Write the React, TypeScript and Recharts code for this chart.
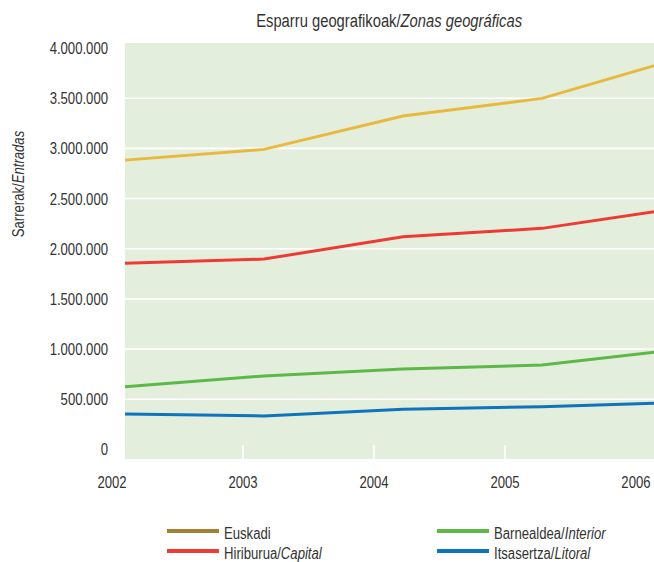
import { LineChart, Line, XAxis, YAxis, CartesianGrid } from 'recharts';

const years = [2002, 2003, 2004, 2005, 2006];
const euskadi = [2883000, 2990000, 3322000, 3498000, 3901000];
const capital = [1855000, 1897000, 2120000, 2203000, 2408000];
const interior = [626000, 732000, 802000, 842000, 999000];
const litoral = [354000, 334000, 400000, 426000, 468000];

const yTicks = [0, 500000, 1000000, 1500000, 2000000, 2500000, 3000000, 3500000, 4000000];
const gridValues = [500000, 1000000, 1500000, 2000000, 2500000, 3000000, 3500000];

const series = [
  { key: 'euskadi', name: 'Euskadi', italic: '', color: '#e9b83f', legendColor: '#a5802f' },
  { key: 'capital', name: 'Hiriburua/', italic: 'Capital', color: '#ee3a33', legendColor: '#ee3a33' },
  { key: 'interior', name: 'Barnealdea/', italic: 'Interior', color: '#5cb947', legendColor: '#5cb947' },
  { key: 'litoral', name: 'Itsasertza/', italic: 'Litoral', color: '#0f74bc', legendColor: '#0f74bc' },
];

const data = years.map((year, i) => ({
  year,
  euskadi: euskadi[i],
  capital: capital[i],
  interior: interior[i],
  litoral: litoral[i],
}));

// no narrow font installed, so squeeze Liberation Sans horizontally
const FONT = '"Liberation Sans", Arial, sans-serif';
const SQ = 0.82;
const TEXT = '#333333';

const fmt = (v: number) => v.toLocaleString('de-DE');

const Narrow = ({ x, y, anchor = 'middle', children, ...rest }: any) => (
  <text
    transform={`translate(${x},${y}) scale(${SQ},1)`}
    textAnchor={anchor}
    fill={TEXT}
    fontSize={16}
    fontFamily={FONT}
    {...rest}
  >
    {children}
  </text>
);

const YearTick = ({ x, y, payload, index }: any) => {
  const inner = index > 0 && index < years.length - 1;
  return (
    <g>
      {inner && <line x1={x} x2={x} y1={y - 14} y2={y} stroke="#ffffff" strokeWidth={1.6} />}
      <Narrow x={x} y={y + 29}>{payload.value}</Narrow>
    </g>
  );
};

const ValueTick = ({ x, y, payload }: any) => (
  <Narrow x={x} y={y + 6} anchor="end">{fmt(payload.value)}</Narrow>
);

const YLabel = () => (
  <text
    transform={`translate(24,184) rotate(-90) scale(${SQ},1)`}
    textAnchor="middle"
    fill={TEXT}
    fontSize={16}
    fontFamily={FONT}
  >
    <tspan>Sarrerak/</tspan>
    <tspan fontStyle="italic">Entradas</tspan>
  </text>
);

const squeeze = { display: 'inline-block', transform: `scaleX(${SQ})`, transformOrigin: 'left center' } as const;

export default function App() {
  return (
    <div style={{ position: 'absolute', left: 0, top: 0, width: 654, height: 562, overflow: 'hidden', background: '#fff', fontFamily: FONT, color: TEXT }}>
      <div style={{ position: 'absolute', left: 189, top: 11, width: 400, textAlign: 'center', fontSize: 18, lineHeight: '20px' }}>
        <span style={{ display: 'inline-block', transform: `scaleX(${SQ})`, whiteSpace: 'nowrap' }}>
          Esparru geografikoak/<i>Zonas geográficas</i>
        </span>
      </div>

      <LineChart width={700} height={562} data={data} margin={{ top: 43, right: 19, bottom: 73, left: 0 }}>
        <CartesianGrid
          xAxisId="idx"
          vertical={false}
          horizontalValues={gridValues}
          stroke="#ffffff"
          strokeWidth={1.6}
          fill="#e3efdc"
          fillOpacity={1}
        />
        <XAxis
          xAxisId="years"
          dataKey="year"
          type="number"
          domain={[2002.099, 2006.344]}
          ticks={years}
          allowDataOverflow
          interval={0}
          height={30}
          axisLine={false}
          tickLine={false}
          tickSize={0}
          tickMargin={0}
          tick={<YearTick />}
        />
        <XAxis xAxisId="idx" dataKey="year" type="category" hide height={0} padding={{ left: 0, right: 0 }} />
        <YAxis
          type="number"
          domain={[-95000, 4050000]}
          ticks={yTicks}
          allowDataOverflow
          interval={0}
          width={125}
          axisLine={false}
          tickLine={false}
          tickSize={0}
          tickMargin={17}
          tick={<ValueTick />}
          label={<YLabel />}
        />
        {/* invisible series so the year axis has something to scale */}
        <Line xAxisId="years" dataKey="litoral" stroke="none" dot={false} activeDot={false} isAnimationActive={false} />
        {series.map((s) => (
          <Line
            key={s.key}
            xAxisId="idx"
            type="linear"
            dataKey={s.key}
            stroke={s.color}
            strokeWidth={3}
            dot={false}
            isAnimationActive={false}
          />
        ))}
      </LineChart>

      {series.map((s, i) => (
        <div
          key={s.key}
          style={{
            position: 'absolute',
            left: i < 2 ? 167 : 437,
            top: i % 2 === 0 ? 524 : 544,
            display: 'flex',
            alignItems: 'center',
            height: 20,
            fontSize: 16,
            whiteSpace: 'nowrap',
          }}
        >
          <span style={{ display: 'inline-block', width: 52, height: 4, background: s.legendColor, marginRight: 5, marginTop: -6 }} />
          <span style={squeeze}>
            {s.name}
            {s.italic && <i>{s.italic}</i>}
          </span>
        </div>
      ))}
    </div>
  );
}
